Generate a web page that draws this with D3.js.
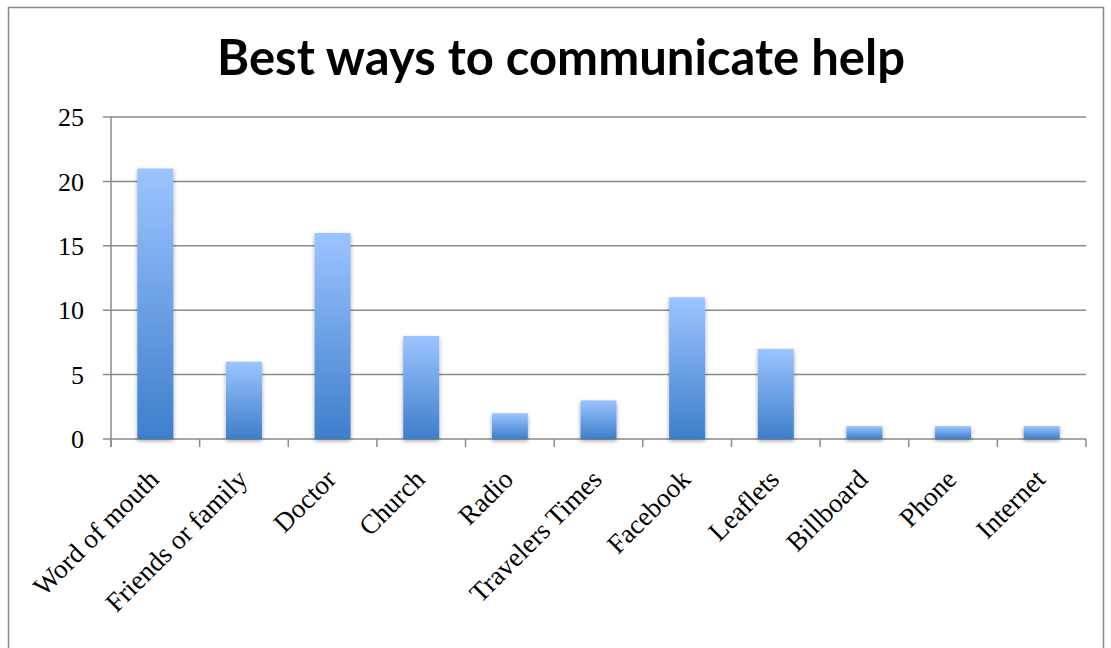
<!DOCTYPE html>
<html><head><meta charset="utf-8">
<script src="https://cdn.jsdelivr.net/npm/d3@7"></script>
<style>body{margin:0;background:#fff}</style>
</head><body>
<script>
const categories = ["Word of mouth","Friends or family","Doctor","Church","Radio","Travelers Times","Facebook","Leaflets","Billboard","Phone","Internet"];
const values = [21,6,16,8,2,3,11,7,1,1,1];
const yTicks = [0,5,10,15,20,25];
const title = "Best ways to communicate help";

const W=1111,H=648;
const svg=d3.select("body").append("svg").attr("width",W).attr("height",H);
const defs=svg.append("defs");
const g=defs.append("linearGradient").attr("id","bg").attr("x1",0).attr("y1",0).attr("x2",0).attr("y2",1);
g.append("stop").attr("offset","0%").attr("stop-color","#9CC4FF");
g.append("stop").attr("offset","100%").attr("stop-color","#3D7ECB");
const f=defs.append("filter").attr("id","sh").attr("x","-30%").attr("y","-30%").attr("width","160%").attr("height","160%");
f.append("feDropShadow").attr("dx",0).attr("dy",2).attr("stdDeviation",2).attr("flood-color","#000").attr("flood-opacity",0.35);

svg.append("rect").attr("x",8.5).attr("y",7.5).attr("width",1095).attr("height",660).attr("fill","none").attr("stroke","#888").attr("stroke-width",1.5);

const x=d3.scaleBand().domain(categories).range([111,1086]).paddingInner(0.594).paddingOuter(0.297);
const y=d3.scaleLinear().domain([0,25]).range([439,117]);

svg.append("g").selectAll("line").data(yTicks).join("line")
  .attr("x1",103).attr("x2",1086).attr("y1",d=>y(d)).attr("y2",d=>y(d))
  .attr("stroke","#8a8a8a").attr("stroke-width",1.5);
svg.append("line").attr("x1",111).attr("x2",111).attr("y1",y(25)).attr("y2",y(0)+8).attr("stroke","#8a8a8a").attr("stroke-width",1.5);
const xt=d3.range(categories.length+1).map(i=>111+i*x.step());
svg.append("g").selectAll("line").data(xt).join("line")
  .attr("x1",d=>d).attr("x2",d=>d).attr("y1",y(0)).attr("y2",y(0)+8)
  .attr("stroke","#8a8a8a").attr("stroke-width",1.5);

svg.append("g").selectAll("text").data(yTicks).join("text")
  .attr("x",84).attr("y",d=>y(d)).attr("dy","0.35em").attr("text-anchor","end")
  .attr("font-family","Liberation Serif, serif").attr("font-size",26).text(d=>d);

svg.append("g").selectAll("rect").data(values).join("rect")
  .attr("x",(d,i)=>x(categories[i])).attr("width",x.bandwidth())
  .attr("y",d=>y(d)).attr("height",d=>y(0)-y(d))
  .attr("fill","url(#bg)").attr("filter","url(#sh)");

svg.append("g").selectAll("text").data(categories).join("text")
  .attr("transform",d=>`translate(${x(d)+x.bandwidth()/2+5},${y(0)+42}) rotate(-45)`)
  .attr("text-anchor","end").attr("font-family","Liberation Serif, serif").attr("font-size",27).text(d=>d);

svg.append("text").attr("x",561).attr("y",75).attr("text-anchor","middle")
  .attr("font-family","Lato, sans-serif").attr("font-weight","bold").attr("font-size",49).text(title);
</script>
</body></html>
